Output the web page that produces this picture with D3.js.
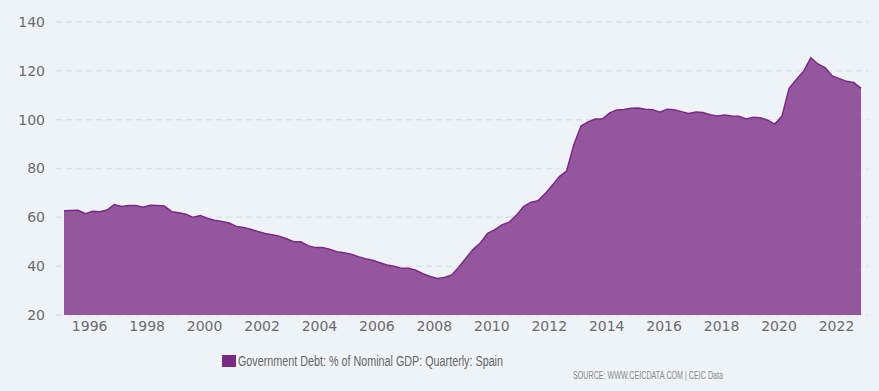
<!DOCTYPE html>
<html><head><meta charset="utf-8">
<script src="https://cdn.jsdelivr.net/npm/d3@7"></script>
<style>
html,body{margin:0;padding:0;background:#eef3f8;}
svg{display:block;}
</style></head>
<body><svg id="c" width="879" height="391"></svg>
<script>
const startYear = 1995;
const startQuarter = 1;
const debtValues = [
 62.7,62.8,62.9,61.5,62.5,62.3,63.0,65.2,64.4,64.8,64.8,64.1,64.9,64.8,64.6,62.3,
 61.9,61.3,60.0,60.7,59.5,58.8,58.3,57.7,56.3,55.8,55.1,54.2,53.4,52.9,52.3,51.2,
 50.0,50.0,48.4,47.6,47.6,46.9,45.9,45.5,44.9,43.9,43.0,42.4,41.4,40.5,40.0,39.1,
 39.1,38.3,36.9,35.8,35.0,35.4,36.4,39.7,43.4,46.9,49.5,53.4,55.0,56.9,58.0,60.8,
 64.4,66.1,66.8,69.6,73.1,76.7,78.9,89.7,97.4,99.1,100.3,100.3,102.8,104.0,104.2,104.7,
 104.8,104.3,104.1,103.1,104.3,104.1,103.3,102.5,103.1,102.9,102.0,101.5,101.9,101.5,101.4,100.3,
 101.0,100.8,99.8,98.2,101.5,112.8,116.5,119.8,125.4,122.8,121.3,117.9,116.8,115.7,115.2,112.8
];
const yTicks = [20,40,60,80,100,120,140];
const xTickYears = [1996,1998,2000,2002,2004,2006,2008,2010,2012,2014,2016,2018,2020,2022];
const seriesName = "Government Debt: % of Nominal GDP: Quarterly: Spain";
const sourceText = "SOURCE: WWW.CEICDATA.COM | CEIC Data";

const data = debtValues.map((v,i)=>{
  const q = (startQuarter-1)+i;
  const yr = startYear + Math.floor(q/4);
  const m = (q%4)*3 + 1;
  return {date:new Date(yr,m,15), value:v};
});

const svg = d3.select("#c");
const x = d3.scaleTime().domain([data[0].date, data[data.length-1].date]).range([64,861]);
const y = d3.scaleLinear().domain([20,140]).range([315,22]);

// grid
svg.append("g").selectAll("line").data(yTicks).join("line")
  .attr("x1",56).attr("x2",868)
  .attr("y1",d=>y(d)).attr("y2",d=>y(d))
  .attr("stroke","#dfe3e7").attr("stroke-width",1.5)
  .attr("stroke-dasharray","6,4");

// area
const area = d3.area().x(d=>x(d.date)).y0(y(20)).y1(d=>y(d.value));
const line = d3.line().x(d=>x(d.date)).y(d=>y(d.value));
svg.append("path").datum(data).attr("d",area).attr("fill","#7b2a84").attr("fill-opacity",0.78);
svg.append("path").datum(data).attr("d",line).attr("fill","none").attr("stroke","#7b2a84").attr("stroke-width",1.5);

// y axis labels
const yAxis = d3.axisLeft(y).tickValues(yTicks).tickSize(0).tickPadding(0);
const gy = svg.append("g").attr("transform","translate(45,0)").call(yAxis);
gy.select(".domain").remove();
gy.selectAll("text").attr("font-family","DejaVu Sans").attr("font-size",14).attr("fill","#6b6b6b");

// x axis labels
const xAxis = d3.axisBottom(x).tickValues(xTickYears.map(yv=>new Date(yv,0,1))).tickFormat(d3.timeFormat("%Y")).tickSize(0).tickPadding(0);
const gx = svg.append("g").attr("transform","translate(0,321)").call(xAxis);
gx.select(".domain").remove();
gx.selectAll("text").attr("font-family","DejaVu Sans").attr("font-size",14).attr("fill","#6b6b6b");

// legend
svg.append("rect").attr("x",222).attr("y",355).attr("width",14).attr("height",12).attr("fill","#7b2a84");
svg.append("text").attr("x",238).attr("y",366).text(seriesName)
  .attr("font-family","Liberation Sans, Arial, sans-serif").attr("font-size",14).attr("fill","#666")
  .attr("textLength",265).attr("lengthAdjust","spacingAndGlyphs");

svg.append("text").attr("x",573).attr("y",379).text(sourceText)
  .attr("font-family","Liberation Sans, Arial, sans-serif").attr("font-size",10).attr("fill","#8a8a8a")
  .attr("textLength",150).attr("lengthAdjust","spacingAndGlyphs");
</script></body></html>
